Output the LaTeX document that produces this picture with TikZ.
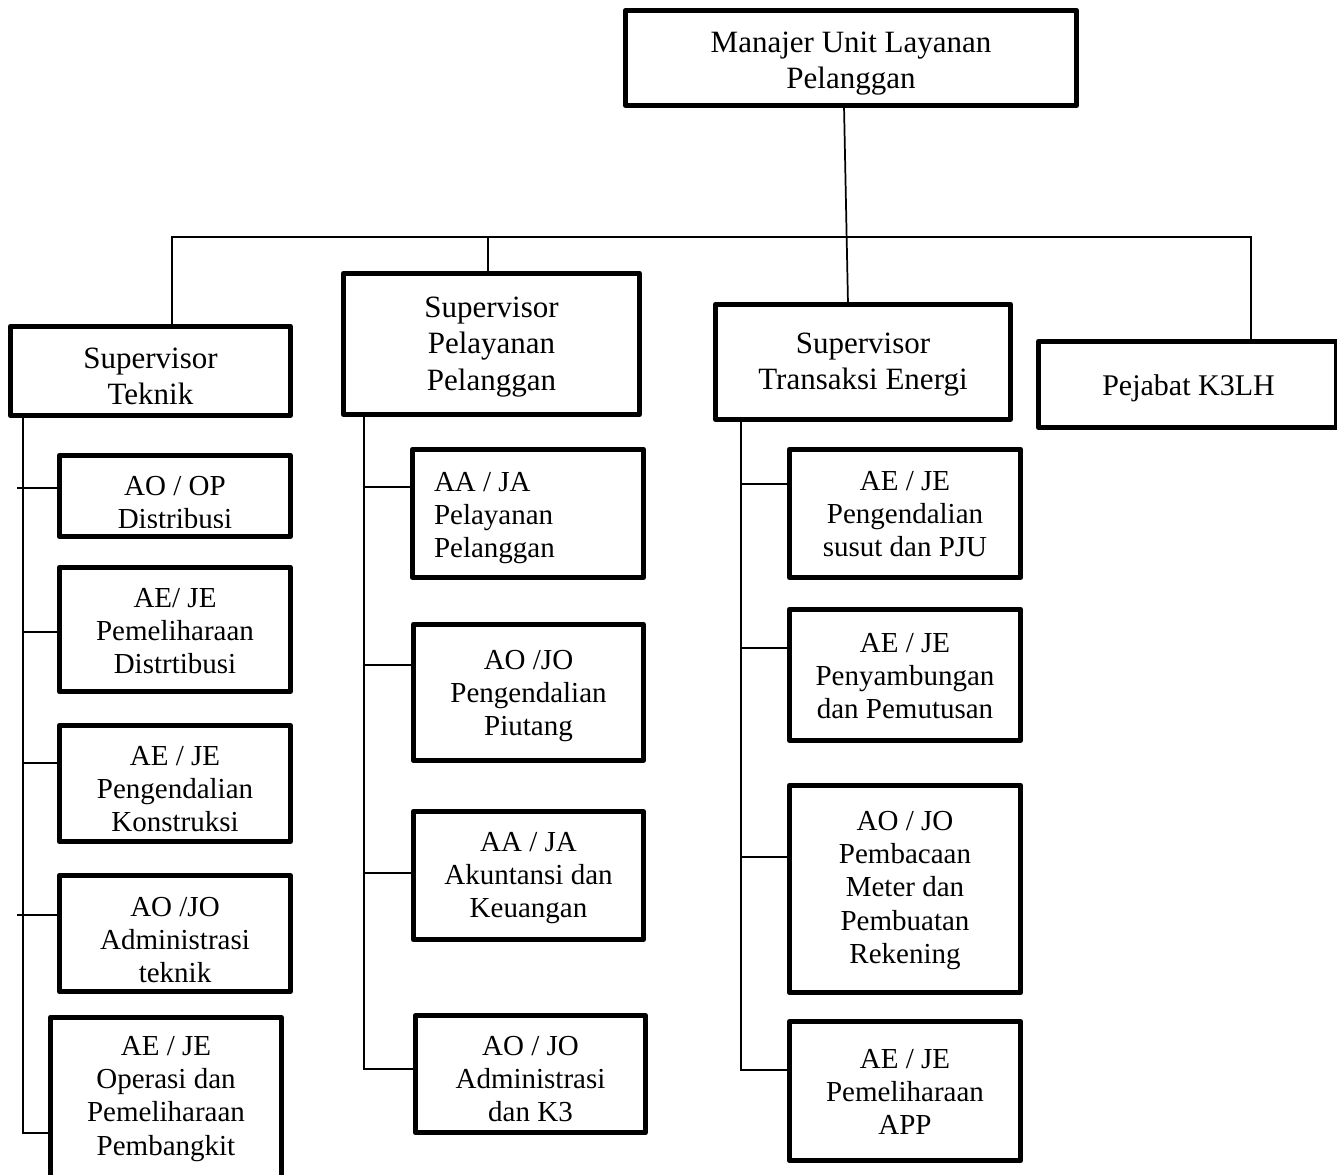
\documentclass[tikz,border=0pt]{standalone}
\usepackage{fontspec}
\setmainfont{Liberation Serif}
\usetikzlibrary{fit}
\newcommand\subtxt[1]{{\fontsize{21.75pt}{25.1pt}\selectfont\begin{tabular}[t]{@{}c@{}}#1\end{tabular}}}
\newcommand\subtxtl[1]{{\fontsize{21.75pt}{25.1pt}\selectfont\begin{tabular}[t]{@{}l@{}}#1\end{tabular}}}
\newcommand\toptxt[1]{{\fontsize{23.25pt}{27.4pt}\selectfont\begin{tabular}[t]{@{}c@{}}#1\end{tabular}}}
% #1 name, #2 L, #3 T, #4 R, #5 B, #6 text x, #7 first baseline, #8 text options, #9 content
\newcommand\obox[9]{%
  \begin{scope}
    \clip ({#2+5},{#3+5}) rectangle ({#4-5},{#5-12});
    \node[txt,#8] (#1t) at (#6,#7) {#9};
  \end{scope}
  \node[orgbox, fit={({#2+2.35},{#3+2.35}) ({#4-2.35},{#5-2.35})}] (#1) {};
}
\begin{document}
\begin{tikzpicture}[x=0.75pt,y=-0.75pt,
  orgbox/.style={draw=black, line width=3.5pt, line join=round, inner sep=0pt, outer sep=0pt},
  txt/.style={anchor=base, inner sep=0pt, outer sep=0pt},
  conn/.style={draw=black, line width=1.3pt, line join=miter}]
\useasboundingbox (0,0) rectangle (1337,1174);

% top level
\obox{mgr}{623}{8}{1079}{108}{851}{52}{}{\toptxt{Manajer Unit Layanan\\Pelanggan}}
\obox{st}{8}{324}{293}{418}{150.5}{368}{}{\toptxt{Supervisor\\Teknik}}
\obox{sp}{341}{271}{642}{417}{491.5}{317}{}{\toptxt{Supervisor\\Pelayanan\\Pelanggan}}
\obox{se}{713}{302}{1013}{422}{863}{353}{}{\toptxt{Supervisor\\Transaksi Energi}}
\obox{k3}{1036}{339}{1339}{430}{1188.5}{395}{}{{\fontsize{22.5pt}{26pt}\selectfont Pejabat K3LH}}

% left column
\obox{a1}{57}{453}{293}{539}{175}{495}{}{\subtxt{AO / OP\\Distribusi}}
\obox{a2}{57}{565}{293}{694}{175}{607}{}{\subtxt{AE/ JE\\Pemeliharaan\\Distrtibusi}}
\obox{a3}{57}{723}{293}{844}{175}{765}{}{\subtxt{AE / JE\\Pengendalian\\Konstruksi}}
\obox{a4}{57}{873}{293}{994}{175}{916}{}{\subtxt{AO /JO\\Administrasi\\teknik}}
\obox{a5}{48}{1015}{284}{1195}{166}{1055}{}{\subtxt{AE / JE\\Operasi dan\\Pemeliharaan\\Pembangkit}}

% middle column
\obox{b1}{410}{447}{646}{580}{434}{491}{anchor=base west}{\subtxtl{AA / JA\\Pelayanan\\Pelanggan}}
\obox{b2}{411}{622}{646}{763}{528.5}{669}{}{\subtxt{AO /JO\\Pengendalian\\Piutang}}
\obox{b3}{411}{809}{646}{942}{528.5}{851}{}{\subtxt{AA / JA\\Akuntansi dan\\Keuangan}}
\obox{b4}{413}{1013}{648}{1135}{530.5}{1055}{}{\subtxt{AO / JO\\Administrasi\\dan K3}}

% right column
\obox{c1}{787}{447}{1023}{580}{905}{490}{}{\subtxt{AE / JE\\Pengendalian\\susut dan PJU}}
\obox{c2}{787}{607}{1023}{743}{905}{652}{}{\subtxt{AE / JE\\Penyambungan\\dan Pemutusan}}
\obox{c3}{787}{783}{1023}{995}{905}{830}{}{\subtxt{AO / JO\\Pembacaan\\Meter dan\\Pembuatan\\Rekening}}
\obox{c4}{787}{1019}{1023}{1163}{905}{1068}{}{\subtxt{AE / JE\\Pemeliharaan\\APP}}

% top bus
\coordinate (busL) at (172,237);
\coordinate (busM) at (488,237);
\coordinate (busR) at (1251,237);
\draw[conn] (busL |- st.north) -- (busL) -- (busR) -- (busR |- k3.north);
\draw[conn] (busM) -- (busM |- sp.north);
\draw[conn] ([xshift=-5.25pt]mgr.south) -- ([xshift=-11.25pt]se.north);

% left trunk
\coordinate (lt) at (23,1133);
\coordinate (la1) at (17,488);
\coordinate (la2) at (23,632);
\coordinate (la3) at (23,763);
\coordinate (la4) at (17,915);
\draw[conn] (lt |- st.south) -- (lt) -- (lt -| a5.west);
\draw[conn] (la1) -- (la1 -| a1.west);
\draw[conn] (la2) -- (la2 -| a2.west);
\draw[conn] (la3) -- (la3 -| a3.west);
\draw[conn] (la4) -- (la4 -| a4.west);

% middle trunk
\coordinate (mt) at (364,1069);
\coordinate (mb1) at (364,487);
\coordinate (mb2) at (364,665);
\coordinate (mb3) at (364,873);
\draw[conn] (mt |- sp.south) -- (mt) -- (mt -| b4.west);
\draw[conn] (mb1) -- (mb1 -| b1.west);
\draw[conn] (mb2) -- (mb2 -| b2.west);
\draw[conn] (mb3) -- (mb3 -| b3.west);

% right trunk
\coordinate (rt) at (741,1070);
\coordinate (rc1) at (741,484);
\coordinate (rc2) at (741,648);
\coordinate (rc3) at (741,857);
\draw[conn] (rt |- se.south) -- (rt) -- (rt -| c4.west);
\draw[conn] (rc1) -- (rc1 -| c1.west);
\draw[conn] (rc2) -- (rc2 -| c2.west);
\draw[conn] (rc3) -- (rc3 -| c3.west);
\end{tikzpicture}
\end{document}
